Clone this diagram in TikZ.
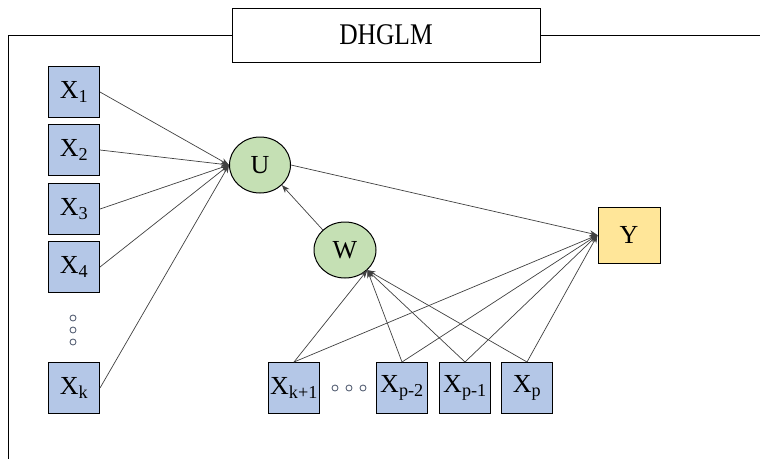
\documentclass[tikz,border=0pt]{standalone}
\usepackage{fontspec}
\setmainfont{Liberation Serif}
\usetikzlibrary{arrows.meta, shapes.geometric}
\definecolor{xblue}{RGB}{180,199,231}
\definecolor{latgreen}{RGB}{197,224,180}
\definecolor{outyellow}{RGB}{255,230,153}
\definecolor{dotgray}{RGB}{90,100,120}

\begin{document}
\begin{tikzpicture}[x=1pt, y=-1pt]
	\useasboundingbox (0,0) rectangle (760,459);
	\begin{scope}[every node/.style={draw, line width=1pt, inner sep=0, font=\fontsize{26}{30}\selectfont}]
	% frame and title
	\draw[line width=1pt] (232,35) -- (8,35) -- (8,459);
	\draw[line width=1pt] (540,35) -- (760,35);
	\node[rectangle, minimum width=308, minimum height=54, font=\fontsize{30}{34}\selectfont] (title) at (386,35) {\scalebox{0.85}[1]{DHGLM}};
	
	% left inputs
	\node[fill=xblue, minimum size=51] (x1) at (74,92) {X\textsubscript{1}};
	\node[fill=xblue, minimum size=51] (x2) at (74,150) {X\textsubscript{2}};
	\node[fill=xblue, minimum size=51] (x3) at (74,209) {X\textsubscript{3}};
	\node[fill=xblue, minimum size=51] (x4) at (74,267) {X\textsubscript{4}};
	\node[fill=xblue, minimum size=51] (xk) at (74,388) {X\textsubscript{k}};
	\foreach \dy in {318,330,342}
		\node[circle, draw=dotgray, line width=0.9pt, minimum size=6] at (73,\dy) {};
	
	% latent nodes
	\node[ellipse, fill=latgreen, minimum width=61, minimum height=56] (u) at (260,165) {U};
	\node[ellipse, fill=latgreen, minimum width=62, minimum height=56] (w) at (345,250) {W};
	\node[fill=outyellow, minimum width=62, minimum height=56] (y) at (629,235) {Y};
	
	% bottom inputs
	\node[fill=xblue, minimum size=51] (xk1) at (294,388) {X\textsubscript{k+1}};
	\node[fill=xblue, minimum size=51] (xp2) at (402,388) {X\textsubscript{p-2}};
	\node[fill=xblue, minimum size=51] (xp1) at (465,388) {X\textsubscript{p-1}};
	\node[fill=xblue, minimum size=51] (xp) at (527,388) {X\textsubscript{p}};
	\foreach \dx in {335,349,363}
		\node[circle, draw=dotgray, line width=0.9pt, minimum size=6] at (\dx,388) {};
	\end{scope}
	
	% connectors
	\begin{scope}[black!75, line width=0.7pt, -{Stealth[length=8pt, width=6pt]}]
	\foreach \n in {x1,x2,x3,x4,xk}
		\draw (\n.east) -- (u.west);
	\draw (u.east) -- (y.west);
	\draw (w.north west) -- (u.south east);
	\foreach \n in {xk1,xp2,xp1,xp} {
		\draw (\n.north) -- (w.south east);
		\draw (\n.north) -- (y.west);
	}
	\end{scope}
\end{tikzpicture}
\end{document}
